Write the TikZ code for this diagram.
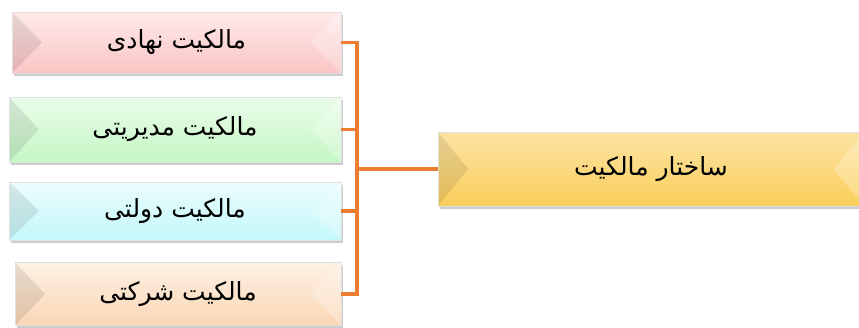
\documentclass[tikz,border=0pt]{standalone}
\usepackage{fontspec}
\newfontfamily\persianfont[Script=Arabic]{DejaVu Sans}
\TeXXeTstate=1
\usetikzlibrary{shadows}

\definecolor{pinkbox}{RGB}{251,196,196}
\definecolor{greenbox}{RGB}{196,247,196}
\definecolor{cyanbox}{RGB}{196,248,250}
\definecolor{peachbox}{RGB}{250,214,180}
\definecolor{goldbox}{RGB}{250,206,90}
\definecolor{linkorange}{RGB}{237,125,49}

\begin{document}
\begin{tikzpicture}[x=1pt,y=-1pt]
    \useasboundingbox (0,0) rectangle (859,327);
    \tikzstyle{bevel}=[rectangle,draw=black!12,inner sep=0pt,
        drop shadow={shadow xshift=1.5pt,shadow yshift=-3pt,opacity=0.4},
        path picture={
            \fill[black,opacity=0.09] (path picture bounding box.north west)
                -- ([xshift=30pt]path picture bounding box.west)
                -- (path picture bounding box.south west) -- cycle;
            \fill[white,opacity=0.25] (path picture bounding box.north east)
                -- ([xshift=-30pt]path picture bounding box.east)
                -- (path picture bounding box.south east) -- cycle;
        },
        font=\persianfont\fontsize{25}{30}\selectfont]
    \tikzstyle{link}=[draw=linkorange,line width=3.5pt]

    % four kinds of ownership
    \foreach \num/\x/\y/\w/\h/\col/\txt in {
            1/176.5/42.5/329/61/pinkbox/مالکیت نهادی,
            2/175/129.5/332/65/greenbox/مالکیت مدیریتی,
            3/175/211/332/58/cyanbox/مالکیت دولتی,
            4/178/294/326/63/peachbox/مالکیت شرکتی}
        \node[bevel,top color=\col!35!white,bottom color=\col,
              minimum width=\w pt,minimum height=\h pt] (B-\num) at (\x,\y)
              {\beginR \txt\endR};

    % ownership structure
    \node[bevel,top color=goldbox!55!white,bottom color=goldbox,
          minimum width=426pt,minimum height=74pt] (main) at (651,169)
          {\beginR ساختار مالکیت\endR};

    \coordinate (bus) at (357,0);
    \draw[link] (B-1.east) -| (bus |- B-4.east) -- (B-4.east);
    \foreach \num in {2,3}
        \draw[link] (B-\num.east) -- (B-\num.east -| bus);
    \draw[link,line width=4.5pt] (main.west) -- (main.west -| bus);
\end{tikzpicture}
\end{document}
